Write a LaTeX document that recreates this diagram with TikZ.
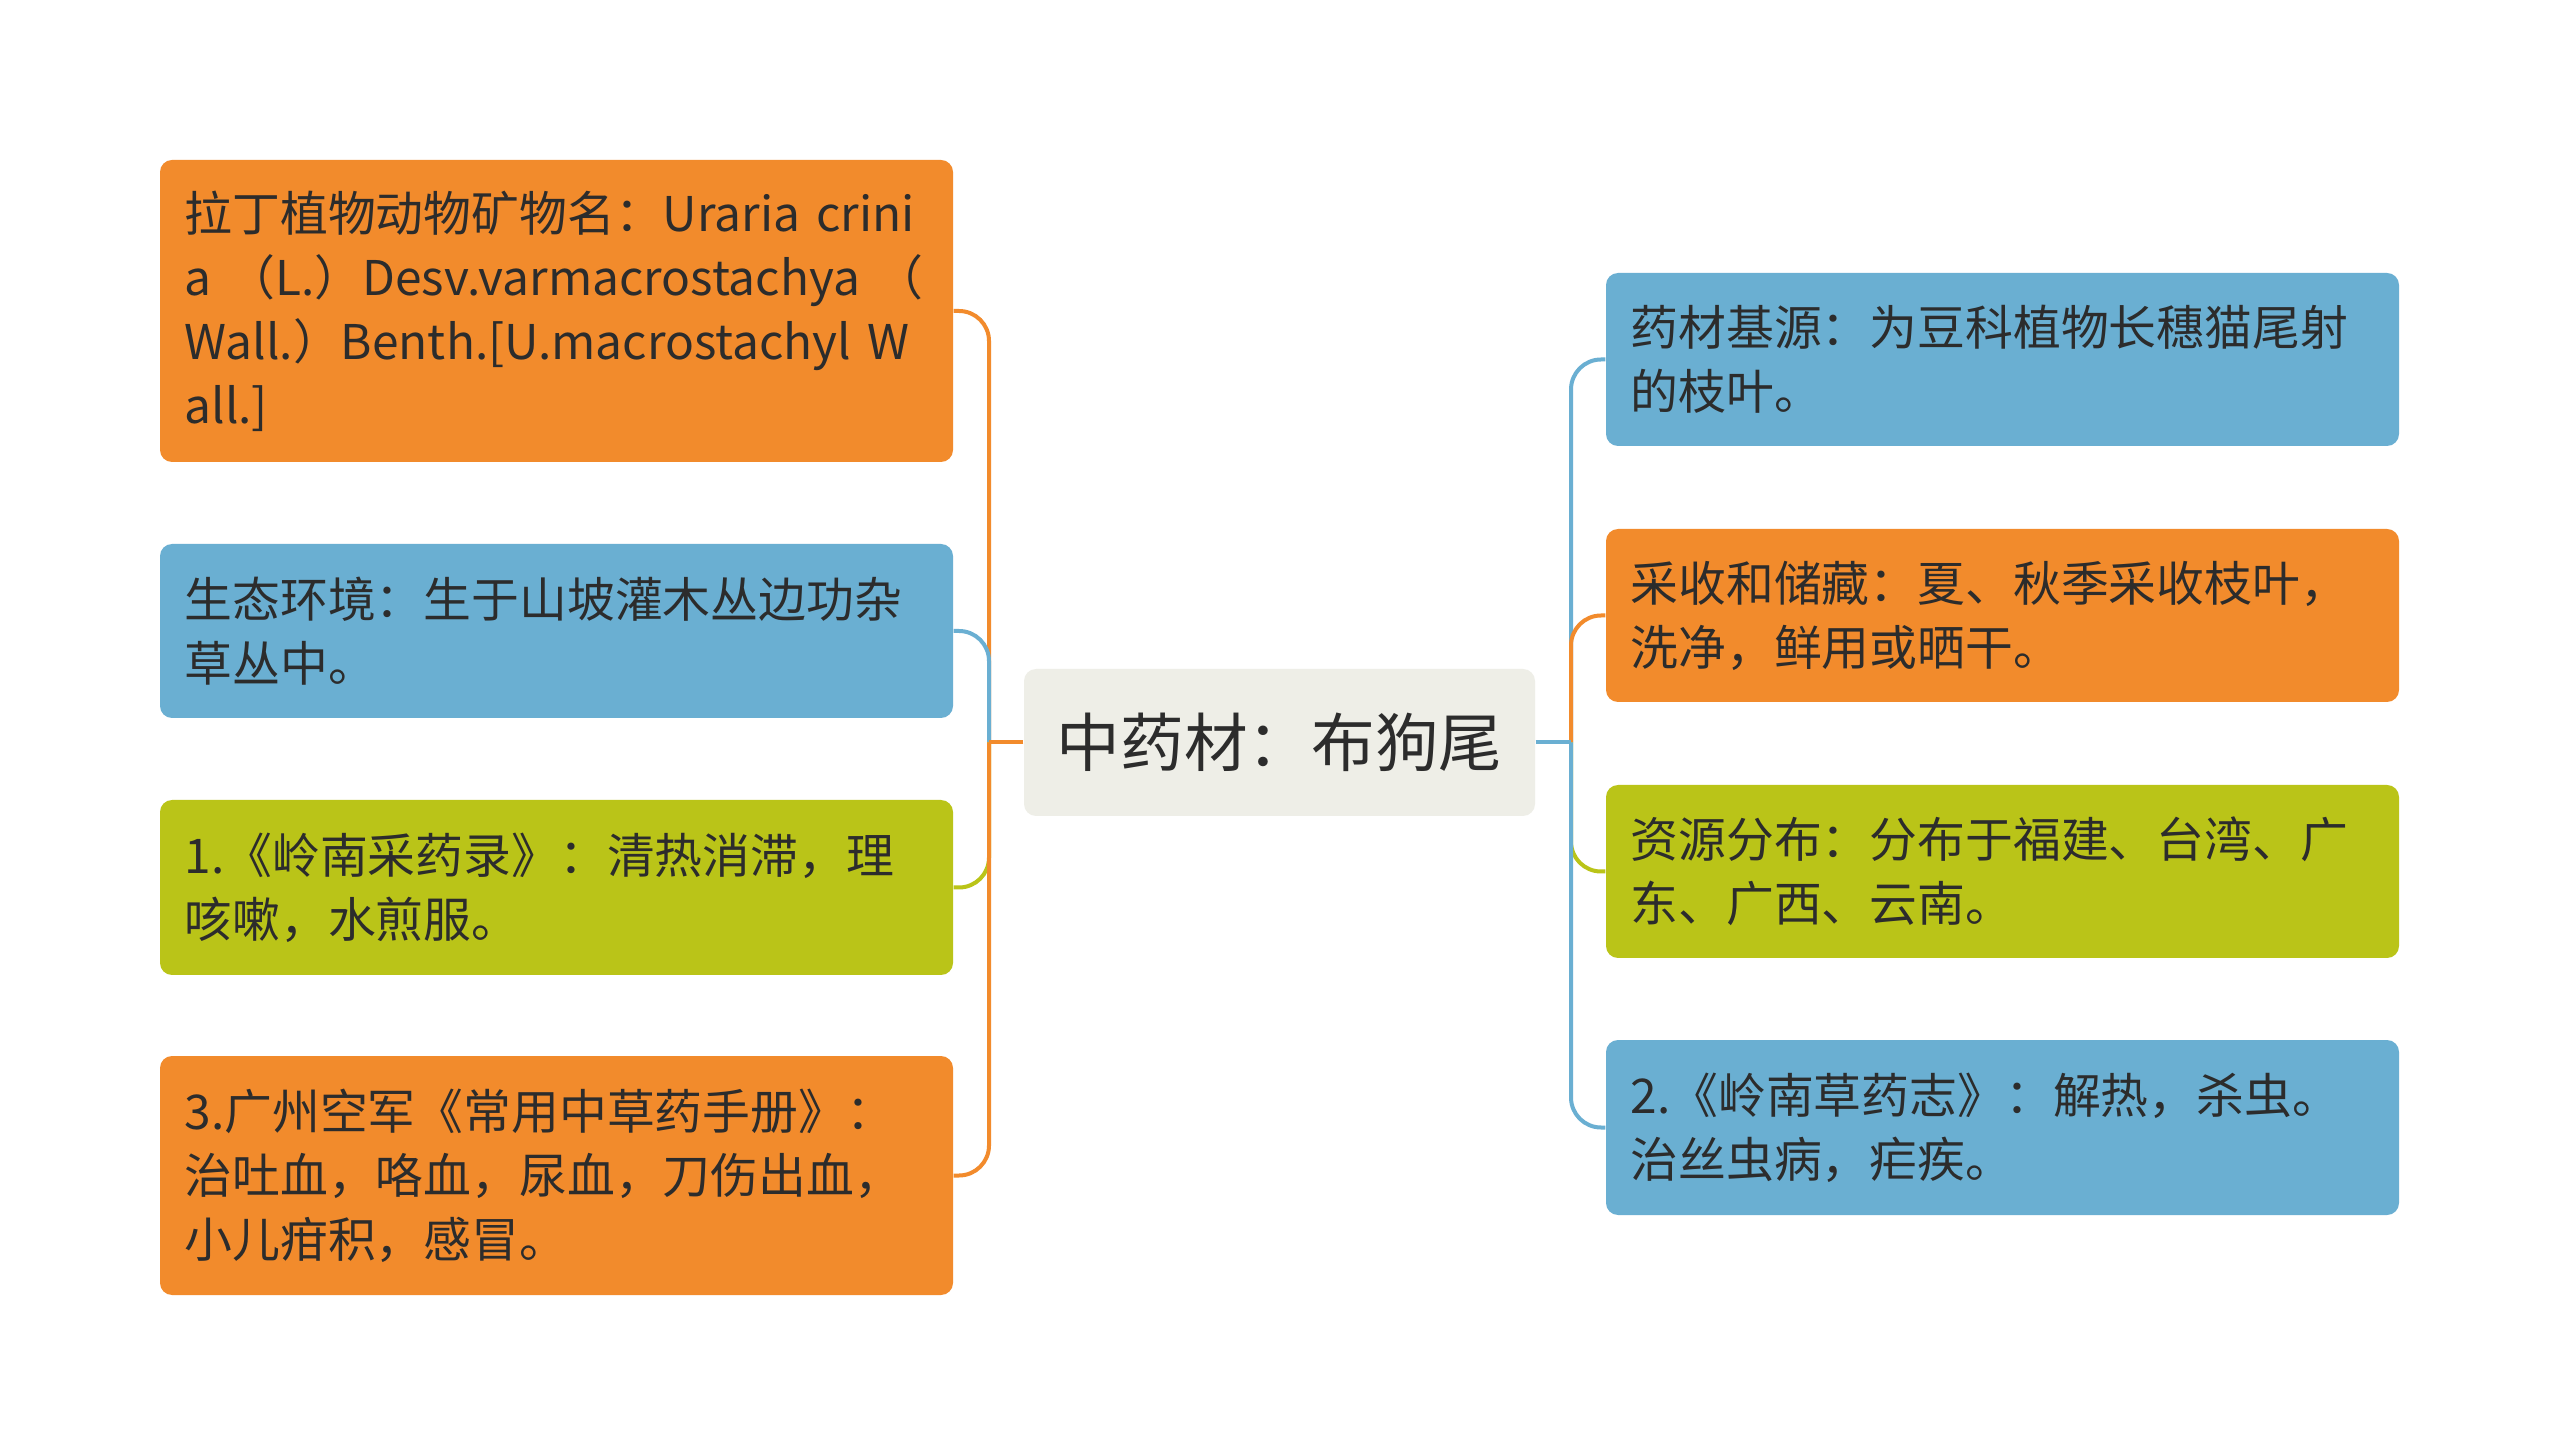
\documentclass[tikz,border=0pt]{standalone}
\usepackage{fontspec}
\setmainfont{Noto Sans CJK SC}
\definecolor{cOr}{HTML}{F28B2C}
\definecolor{cBl}{HTML}{6AAFD2}
\definecolor{cGr}{HTML}{BAC418}
\definecolor{cCen}{HTML}{EEEEE7}
\definecolor{txt}{HTML}{2C2C2C}
\begin{document}
\begin{tikzpicture}[x=0.3pt,y=-0.3pt,
  box/.style={rounded corners=3.6pt, inner xsep=7.35pt, inner ysep=0pt,
    text width=223.2pt, align=left, minimum width=237.9pt,
    font=\fontsize{14.35pt}{19.2pt}\selectfont, text=txt},
  conn/.style={line width=1.2pt, rounded corners=9pt}]
\path[use as bounding box, fill=white] (0,0) rectangle (2560,1456);

% central topic
\node[fill=cCen, rounded corners=3.6pt, minimum width=153.3pt, minimum height=44.1pt,
  inner sep=0pt, font=\fontsize{19.1pt}{22pt}\selectfont, text=txt] (C) at (1279.5,742.5) {中药材：布狗尾};

% junction coordinates
\coordinate (LJ) at (989,742.5);
\coordinate (RJ) at (1571,742.5);

% left nodes
\node[box, fill=cOr, minimum height=90.6pt] (L1) at (556.5,311)
  {拉丁植物动物矿物名：Uraria crini\\a （L.）Desv.varmacrostachya （\\Wall.）Benth.[U.macrostachyl W\\all.]};
\node[box, fill=cBl, minimum height=52.2pt] (L2) at (556.5,631)
  {生态环境：生于山坡灌木丛边功杂\\草丛中。};
\node[box, fill=cGr, minimum height=52.5pt] (L3) at (556.5,887.5)
  {1.《岭南采药录》：清热消滞，理\\咳嗽，水煎服。};
\node[box, fill=cOr, minimum height=71.7pt] (L4) at (556.5,1175.5)
  {3.广州空军《常用中草药手册》：\\治吐血，咯血，尿血，刀伤出血，\\小儿疳积，感冒。};

% right nodes
\node[box, fill=cBl, minimum height=51.9pt] (R1) at (2002.5,359.5)
  {药材基源：为豆科植物长穗猫尾射\\的枝叶。};
\node[box, fill=cOr, minimum height=51.9pt] (R2) at (2002.5,615.5)
  {采收和储藏：夏、秋季采收枝叶，\\洗净，鲜用或晒干。};
\node[box, fill=cGr, minimum height=51.9pt] (R3) at (2002.5,871.5)
  {资源分布：分布于福建、台湾、广\\东、广西、云南。};
\node[box, fill=cBl, minimum height=52.5pt] (R4) at (2002.5,1127.5)
  {2.《岭南草药志》：解热，杀虫。\\治丝虫病，疟疾。};

% connectors
\draw[conn, cOr] (LJ) |- (L1.east);
\draw[conn, cBl] (LJ) |- (L2.east);
\draw[conn, cGr] (LJ) |- (L3.east);
\draw[conn, cOr] (LJ) |- (L4.east);
\draw[conn, cOr] (C.west) -- (LJ);
\draw[conn, cBl] (RJ) |- (R1.west);
\draw[conn, cOr] (RJ) |- (R2.west);
\draw[conn, cGr] (RJ) |- (R3.west);
\draw[conn, cBl] (RJ) |- (R4.west);
\draw[conn, cBl] (C.east) -- (RJ);
\end{tikzpicture}
\end{document}
